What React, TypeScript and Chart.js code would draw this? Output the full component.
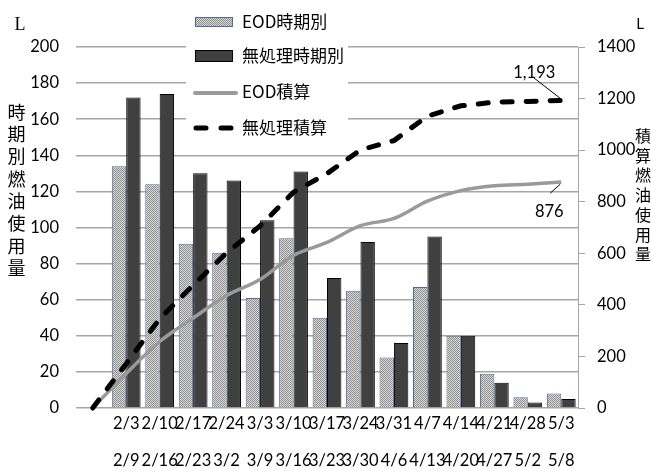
import React, { useEffect, useRef } from "react";
import { Chart, registerables } from "chart.js";

Chart.register(...registerables);

// Weekly periods (start / end); the first, empty slot anchors the cumulative lines at zero.
const periodStart = ["", "2/3", "2/10", "2/17", "2/24", "3/3", "3/10", "3/17", "3/24", "3/31", "4/7", "4/14", "4/21", "4/28", "5/3"];
const periodEnd = ["", "2/9", "2/16", "2/23", "3/2", "3/9", "3/16", "3/23", "3/30", "4/6", "4/13", "4/20", "4/27", "5/2", "5/8"];

// Fuel used per period (L)
const eodPeriod = [null, 134, 124, 91, 86, 61, 94, 50, 65, 28, 67, 40, 19, 6, 8];
const untreatedPeriod = [null, 172, 174, 130, 126, 104, 131, 72, 92, 36, 95, 40, 14, 3, 5];

// Cumulative fuel used (L)
const eodCumulative = [0, 134, 258, 349, 436, 498, 592, 642, 707, 735, 802, 843, 862, 868, 876];
const untreatedCumulative = [0, 172, 346, 476, 602, 706, 837, 909, 1001, 1037, 1132, 1172, 1186, 1189, 1193];

// Axis ranges
const leftAxisRange = [0, 200, 20];
const rightAxisRange = [0, 1400, 200];

const seriesNames = ["EOD時期別", "無処理時期別", "EOD積算", "無処理積算"];
const leftTitle = "時期別燃油使用量";
const rightTitle = "積算燃油使用量";
const unitLabel = "L";

const NUM_FONT = "Lato, Roboto, 'DejaVu Sans', sans-serif";
const CJK_FONT = "'Noto Sans CJK JP', 'Noto Sans', sans-serif";
const SERIF_FONT = "'Liberation Serif', 'DejaVu Serif', serif";
const NUM_SIZE = 16.5;

const GRAY_LINE = "#9a9a9a";
const DARK_BAR = "#404040";
const EOD_BORDER = "#4f6c9c";

function makeDotPattern(ctx: CanvasRenderingContext2D): CanvasPattern | string {
  const c = document.createElement("canvas");
  c.width = 4;
  c.height = 4;
  const p = c.getContext("2d");
  if (!p) return "#b5b5b5";
  p.fillStyle = "#d9d9d9";
  p.fillRect(0, 0, 4, 4);
  p.fillStyle = "#8f8f8f";
  for (let y = 0; y < 4; y++) {
    for (let x = 0; x < 4; x++) {
      if ((x + y) % 2 === 0) p.fillRect(x, y, 1, 1);
    }
  }
  return ctx.createPattern(c, "repeat") || "#b5b5b5";
}

function drawVerticalText(ctx: CanvasRenderingContext2D, text: string, cx: number, top: number, step: number) {
  Array.from(text).forEach((ch, i) => {
    ctx.fillText(ch, cx, top + i * step);
  });
}

export default function App() {
  const canvasRef = useRef<HTMLCanvasElement | null>(null);

  useEffect(() => {
    const canvas = canvasRef.current;
    if (!canvas) return;
    const ctx = canvas.getContext("2d");
    if (!ctx) return;
    const dots = makeDotPattern(ctx);

    const labels = periodStart.map((s, i) => (s ? [s, "", periodEnd[i]] : ""));

    const overlay = {
      id: "overlay",
      afterDraw(chart: any) {
        const c: CanvasRenderingContext2D = chart.ctx;
        c.save();

        // axis titles
        c.fillStyle = "#000";
        c.textAlign = "center";
        c.textBaseline = "middle";
        c.font = `18px ${CJK_FONT}`;
        drawVerticalText(c, leftTitle, 16.5, 112, 22.3);
        c.font = `16px ${CJK_FONT}`;
        drawVerticalText(c, rightTitle, 643, 136, 19.7);

        c.font = `18px ${SERIF_FONT}`;
        c.fillText(unitLabel, 20, 25);
        c.font = `15px ${NUM_FONT}`;
        c.fillText(unitLabel, 640, 24);

        // value callouts at the last cumulative points
        const callout = (dsIndex: number, dx: number, dy: number, lx1: number, ly1: number) => {
          const meta = chart.getDatasetMeta(dsIndex);
          const pt = meta.data[meta.data.length - 1];
          const data = chart.data.datasets[dsIndex].data;
          const value = data[data.length - 1] as number;
          c.strokeStyle = "#000";
          c.lineWidth = 1;
          c.beginPath();
          c.moveTo(pt.x + lx1, pt.y + ly1);
          c.lineTo(pt.x - 1, pt.y - (ly1 > 0 ? -2 : 2));
          c.stroke();
          c.font = `${NUM_SIZE}px ${NUM_FONT}`;
          c.fillStyle = "#000";
          c.textAlign = "center";
          c.textBaseline = "middle";
          c.fillText(value.toLocaleString("en-US"), pt.x + dx, pt.y + dy);
        };
        callout(3, -27, -28, -28, -23);
        callout(2, -12, 30, -11, 11);

        // legend panel
        c.fillStyle = "#fff";
        c.fillRect(186, 4, 162, 138);
        const textX = 242;
        c.font = `17px ${CJK_FONT}`;
        c.textAlign = "left";
        c.textBaseline = "middle";

        c.fillStyle = dots as any;
        c.fillRect(195, 17, 38, 10);
        c.strokeStyle = EOD_BORDER;
        c.lineWidth = 1;
        c.strokeRect(195.5, 17.5, 37, 9);
        c.fillStyle = "#000";
        c.fillText(seriesNames[0], textX, 22);

        c.fillStyle = DARK_BAR;
        c.fillRect(195, 50, 38, 12);
        c.strokeStyle = "#000";
        c.strokeRect(195.5, 50.5, 37, 11);
        c.fillStyle = "#000";
        c.fillText(seriesNames[1], textX, 56);

        c.lineCap = "round";
        c.strokeStyle = GRAY_LINE;
        c.lineWidth = 4;
        c.beginPath();
        c.moveTo(195, 93);
        c.lineTo(236, 93);
        c.stroke();
        c.fillStyle = "#000";
        c.fillText(seriesNames[2], textX, 92);

        c.strokeStyle = "#000";
        c.lineWidth = 5;
        c.beginPath();
        c.moveTo(196, 128);
        c.lineTo(206, 128);
        c.moveTo(221, 128);
        c.lineTo(231, 128);
        c.stroke();
        c.fillText(seriesNames[3], textX, 128);

        c.restore();
      },
    };

    const chart = new Chart(canvas, {
      type: "bar",
      data: {
        labels,
        datasets: [
          {
            type: "bar",
            label: seriesNames[0],
            data: eodPeriod,
            backgroundColor: dots as any,
            borderColor: EOD_BORDER,
            borderWidth: 1,
            yAxisID: "y",
            order: 2,
            categoryPercentage: 0.86,
            barPercentage: 1.0,
          },
          {
            type: "bar",
            label: seriesNames[1],
            data: untreatedPeriod,
            backgroundColor: DARK_BAR,
            borderColor: "#000",
            borderWidth: 1,
            yAxisID: "y",
            order: 3,
            categoryPercentage: 0.86,
            barPercentage: 1.0,
          },
          {
            type: "line",
            label: seriesNames[2],
            data: eodCumulative,
            borderColor: GRAY_LINE,
            borderWidth: 3.5,
            pointRadius: 0,
            cubicInterpolationMode: "monotone",
            yAxisID: "y2",
            order: 1,
            clip: 6,
          } as any,
          {
            type: "line",
            label: seriesNames[3],
            data: untreatedCumulative,
            borderColor: "#000",
            borderWidth: 5,
            borderDash: [10, 14],
            borderCapStyle: "round",
            pointRadius: 0,
            tension: 0,
            yAxisID: "y2",
            order: 0,
            clip: 6,
          } as any,
        ],
      },
      options: {
        responsive: false,
        animation: false,
        events: [],
        layout: { padding: { top: 47, left: 0, right: 0, bottom: 0 } },
        plugins: {
          legend: { display: false },
          tooltip: { enabled: false },
        },
        scales: {
          x: {
            grid: { display: false, drawTicks: false },
            border: { display: false },
            ticks: {
              autoSkip: false,
              maxRotation: 0,
              minRotation: 0,
              color: "#000",
              padding: 6,
              font: { family: NUM_FONT, size: NUM_SIZE, lineHeight: "18.5px" },
            },
            afterFit(scale: any) {
              scale.height = 63;
            },
          },
          y: {
            position: "left",
            min: leftAxisRange[0],
            max: leftAxisRange[1],
            ticks: {
              stepSize: leftAxisRange[2],
              color: "#000",
              padding: 17,
              font: { family: NUM_FONT, size: NUM_SIZE },
            },
            grid: { color: "#a6a6a6", lineWidth: 1.5, drawTicks: false },
            border: { display: false },
            afterFit(scale: any) {
              scale.width = 76;
            },
          },
          y2: {
            position: "right",
            min: rightAxisRange[0],
            max: rightAxisRange[1],
            ticks: {
              stepSize: rightAxisRange[2],
              color: "#000",
              padding: 12,
              font: { family: NUM_FONT, size: NUM_SIZE },
              callback: (v: any) => String(v),
            },
            grid: { drawOnChartArea: false, color: "#a6a6a6", tickLength: 7, lineWidth: 1 },
            border: { display: true, color: "#a6a6a6", width: 1 },
            afterFit(scale: any) {
              scale.width = 73;
            },
          },
        },
      },
      plugins: [overlay],
    });

    return () => chart.destroy();
  }, []);

  return (
    <div style={{ position: "fixed", left: 0, top: 0, width: 651, height: 471, background: "#fff" }}>
      <canvas ref={canvasRef} width={651} height={471} />
    </div>
  );
}
